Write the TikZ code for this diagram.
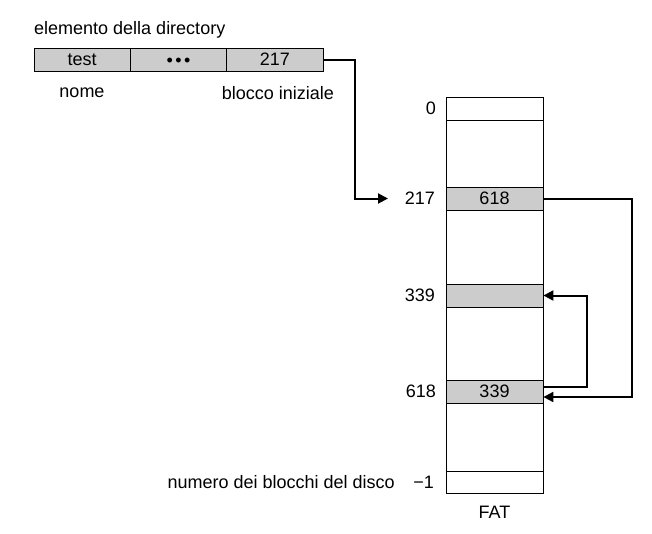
\documentclass[tikz,border=0pt]{standalone}
\usepackage{fontspec}
\setmainfont{Liberation Sans}
\usetikzlibrary{arrows.meta}
\definecolor{cellgray}{gray}{0.8}
\tikzset{
  cell/.style={draw, line width=0.8pt, fill=cellgray, minimum height=23pt, inner sep=0pt},
  dircell/.style={cell, minimum width=96.33pt},
  fatcell/.style={cell, minimum width=97pt},
  freecell/.style={fatcell, fill=white},
  lbl/.style={inner sep=0pt},
  link/.style={line width=2pt, -{Triangle[length=10pt,width=10pt]}}
}
\begin{document}
\begin{tikzpicture}[x=1pt,y=-1pt,font=\fontsize{18}{21}\selectfont]
      \useasboundingbox (0,0) rectangle (652,533);
      \draw
        (34,30) node[lbl,anchor=west] (title){elemento della directory}
        (82.17,59.5) node[dircell] (name){test}
        (178.5,59.5) node[dircell] (dots){\vphantom{217}\raisebox{-1pt}{•\hspace{2.5pt}•\hspace{2.5pt}•}}
        (274.83,59.5) node[dircell] (start){217}
        (82,93) node[lbl] (namelbl){nome}
        (278,93) node[lbl] (startlbl){blocco iniziale};
      \draw
        (494.5,295) node[draw, line width=0.8pt, minimum width=97pt, minimum height=396pt] (fat){}
        (494.5,108.5) node[freecell] (fat0){}
        (494.5,198.5) node[fatcell] (fat217){618}
        (494.5,295.5) node[fatcell] (fat339){}
        (494.5,391.5) node[fatcell] (fat618){339}
        (494.5,482) node[freecell, minimum height=22pt] (fatlast){}
        (494.5,512) node[lbl] (fatlbl){FAT};
      \draw
        (436,108.5) node[lbl,anchor=east] (idx0){0}
        (435,198.5) node[lbl,anchor=east] (idx217){217}
        (435,295.5) node[lbl,anchor=east] (idx339){339}
        (436,391.5) node[lbl,anchor=east] (idx618){618}
        (434,482) node[lbl,anchor=east] (idxlast){−1}
        (395,482) node[lbl,anchor=east] (lastlbl){numero dei blocchi del disco};
      \coordinate (in217) at (388,198.5);
      \begin{scope}[link]
        \draw (start.east) -- ++(32,0) |- (in217);
        \draw (fat217.east) -- ++(89,0) |- ([yshift=-5.5pt]fat618.east);
        \draw ([yshift=4.5pt]fat618.east) -- ++(44,0) |- (fat339.east);
      \end{scope}
    \end{tikzpicture}
\end{document}
